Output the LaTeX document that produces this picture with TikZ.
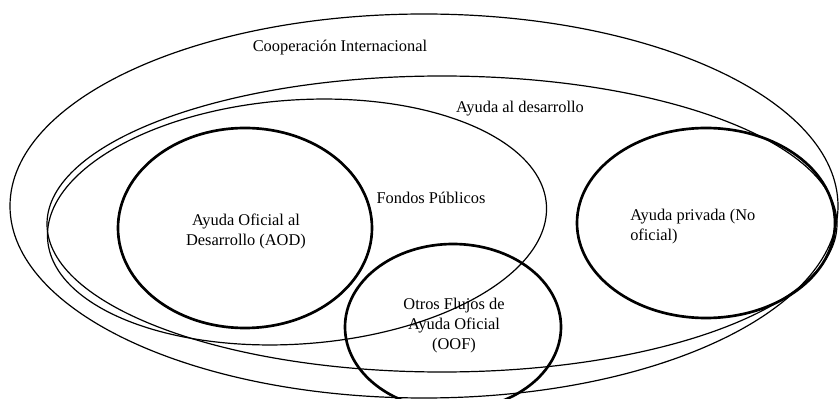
\documentclass[tikz,border=0pt]{standalone}
\usepackage{fontspec}
\setmainfont{Liberation Serif}

\begin{document}
\begin{tikzpicture}[x=0.75pt, y=-0.75pt,
	thinset/.style={line width=0.9pt},
	thickset/.style={line width=2pt},
	setlabel/.style={font=\fontsize{12.3}{15}\selectfont, inner sep=0pt, align=center}]

\def\width{840}
\def\height{399}

\path [use as bounding box] (0,0) rectangle (\width,\height);

% OUTER SETS
\draw [thinset] (424,206) ellipse [x radius=414, y radius=192];
\draw [thinset] (442,224) ellipse [x radius=395, y radius=148];
\draw [thinset, rotate around={4:(297,222)}] (297,222) ellipse [x radius=250, y radius=122];

% INNER SETS
\draw [thickset] (245,228) ellipse [x radius=127, y radius=100];
\draw [thickset] (706,223) ellipse [x radius=129, y radius=95];
\draw [thickset] (453,327) ellipse [x radius=108, y radius=83];

% LABELS
\node [setlabel, anchor=base] (coop) at (340,52) {Cooperación Internacional};
\node [setlabel, anchor=base] (desarrollo) at (520,113) {Ayuda al desarrollo};
\node [setlabel, anchor=base] (fondos) at (431,204) {Fondos Públicos};
\node [setlabel] (aod) at (246,231) {Ayuda Oficial al\\Desarrollo (AOD)};
\node [setlabel, anchor=west, align=left] (privada) at (630,227) {Ayuda privada (No\\oficial)};
\node [setlabel] (oof) at (454,326) {Otros Flujos de\\Ayuda Oficial\\(OOF)};

\end{tikzpicture}
\end{document}
